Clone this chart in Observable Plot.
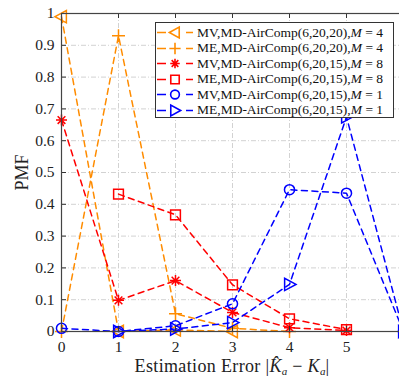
<!DOCTYPE html>
<html>
<head>
<meta charset="utf-8">
<script src="https://cdn.jsdelivr.net/npm/d3@7"></script>
<script src="https://cdn.jsdelivr.net/npm/@observablehq/plot@0.6"></script>
<style>
  html, body { margin: 0; padding: 0; background: #fff; }
  #wrap { position: relative; width: 399px; height: 379px; overflow: hidden; font-family: "Liberation Serif", serif; }
  #legend { position: absolute; left: 155px; top: 22px; width: 239px; height: 96px; background: #fff; border: 1px solid #333; box-sizing: border-box; padding-top: 2px; }
  .row { display: flex; align-items: center; height: 15.5px; font-size: 13.5px; color: #111; white-space: nowrap; }
  .row svg { flex: none; }
  #xlabel { position: absolute; left: 61px; width: 342px; top: 356px; height: 23px; text-align: center; font-size: 18px; letter-spacing: 0.35px; color: #222; line-height: 20px; }
  sub { font-size: 11px; vertical-align: -3px; line-height: 0; letter-spacing: 0; }
</style>
</head>
<body>
<div id="wrap">
  <div id="chart"></div>
  <div id="legend"></div>
  <div id="xlabel">Estimation Error |<i>K̂</i><sub><i>a</i></sub> − <i>K</i><sub><i>a</i></sub>|</div>
</div>
<script>
// ---- data ----
const xTicks = [0, 1, 2, 3, 4, 5, 6];
const yTicks = [0, 0.1, 0.2, 0.3, 0.4, 0.5, 0.6, 0.7, 0.8, 0.9, 1];

const mv2020M4_x = [0, 1, 2, 3];
const mv2020M4_y = [0.99, 0.0, 0.005, 0.0];

const me2020M4_x = [0, 1, 2, 3, 4];
const me2020M4_y = [0.0, 0.93, 0.056, 0.01, 0.0];

const mv2015M8_x = [0, 1, 2, 3, 4, 5];
const mv2015M8_y = [0.665, 0.098, 0.16, 0.06, 0.012, 0.003];

const me2015M8_x = [1, 2, 3, 4, 5];
const me2015M8_y = [0.432, 0.367, 0.147, 0.04, 0.006];

const mv2015M1_x = [0, 1, 2, 3, 4, 5, 6];
const mv2015M1_y = [0.01, 0.0, 0.018, 0.087, 0.446, 0.435, 0.0];

const me2015M1_x = [1, 2, 3, 4, 5, 6];
const me2015M1_y = [0.0, 0.008, 0.028, 0.148, 0.675, 0.0];

const legendLabels = [
  "MV,MD-AirComp(6,20,20),<i>M</i> = 4",
  "ME,MD-AirComp(6,20,20),<i>M</i> = 4",
  "MV,MD-AirComp(6,20,15),<i>M</i> = 8",
  "ME,MD-AirComp(6,20,15),<i>M</i> = 8",
  "MV,MD-AirComp(6,20,15),<i>M</i> = 1",
  "ME,MD-AirComp(6,20,15),<i>M</i> = 1"
];

// ---- styles ----
const ORANGE = "#ff8c00", RED = "#ff0000", BLUE = "#0000ff";

const sym = (fn) => ({ draw(ctx, size) { const r = Math.sqrt(size / Math.PI); fn(ctx, r); } });
const triLeft = sym((c, r) => { c.moveTo(-r, 0); c.lineTo(r * 0.75, -r * 0.95); c.lineTo(r * 0.75, r * 0.95); c.closePath(); });
const triRight = sym((c, r) => { c.moveTo(r, 0); c.lineTo(-r * 0.75, -r * 0.95); c.lineTo(-r * 0.75, r * 0.95); c.closePath(); });
const plus = sym((c, r) => { c.moveTo(-r, 0); c.lineTo(r, 0); c.moveTo(0, -r); c.lineTo(0, r); });
const star = sym((c, r) => { const d = r * 0.7; c.moveTo(-r, 0); c.lineTo(r, 0); c.moveTo(0, -r); c.lineTo(0, r); c.moveTo(-d, -d); c.lineTo(d, d); c.moveTo(-d, d); c.lineTo(d, -d); });
const square = sym((c, r) => { const s = r * 0.75; c.moveTo(-s, -s); c.lineTo(s, -s); c.lineTo(s, s); c.lineTo(-s, s); c.closePath(); });
const circle = sym((c, r) => { const s = r * 0.72; c.moveTo(s, 0); c.arc(0, 0, s, 0, 2 * Math.PI); });

const series = [
  { xs: mv2020M4_x, ys: mv2020M4_y, color: ORANGE, symbol: triLeft, r: 6.5 },
  { xs: me2020M4_x, ys: me2020M4_y, color: ORANGE, symbol: plus, r: 6.5 },
  { xs: mv2015M8_x, ys: mv2015M8_y, color: RED, symbol: star, r: 5.5 },
  { xs: me2015M8_x, ys: me2015M8_y, color: RED, symbol: square, r: 6.5 },
  { xs: mv2015M1_x, ys: mv2015M1_y, color: BLUE, symbol: circle, r: 7 },
  { xs: me2015M1_x, ys: me2015M1_y, color: BLUE, symbol: triRight, r: 6.5 }
];

const H = 356, MT = 13, MB = 25;
const innerH = H - MT - MB;

const marks = [
  Plot.gridX(xTicks, { stroke: "#d2d2d2", strokeOpacity: 1, strokeDasharray: "5,2,1,2" }),
  Plot.gridY(yTicks, { stroke: "#d2d2d2", strokeOpacity: 1, strokeDasharray: "5,2,1,2" }),
  Plot.axisY(yTicks, { tickSize: 0, tickPadding: 7, tickFormat: d => String(d), label: "PMF", labelAnchor: "center", labelArrow: "none", labelOffset: 46, fontSize: 15.5 }),
  Plot.axisX(xTicks.slice(0, 6), { tickSize: 0, tickPadding: 9, tickFormat: d => String(d), label: null, fontSize: 15.5 }),
];
for (const s of series) {
  const data = s.xs.map((x, i) => ({ x, y: s.ys[i] }));
  marks.push(Plot.line(data, { x: "x", y: "y", stroke: s.color, strokeWidth: 1.5, strokeDasharray: "6,4.5" }));
  marks.push(Plot.dot(data, { x: "x", y: "y", symbol: s.symbol, r: s.r, stroke: s.color, fill: "none", strokeWidth: 1.5 }));
}
marks.push(
  Plot.tickX(xTicks, { x: d => d, stroke: "#333", insetTop: innerH - 5 }),
  Plot.tickX(xTicks, { x: d => d, stroke: "#333", insetBottom: innerH - 5 }),
  Plot.tickY(yTicks, { y: d => d, stroke: "#333", insetRight: 337 }),
  Plot.frame({ stroke: "#444", strokeWidth: 1.2 })
);

const chart = Plot.plot({
  width: 399,
  height: H,
  marginLeft: 61,
  marginRight: -4,
  marginTop: MT,
  marginBottom: MB,
  x: { domain: [0, 6] },
  y: { domain: [0, 1] },
  style: { fontFamily: "Liberation Serif, serif", fontSize: "15.5px", color: "#222", background: "#fff", overflow: "hidden" },
  marks
});
// enlarge the y-axis title (PMF)
chart.querySelectorAll("text").forEach(t => { if (t.textContent === "PMF") t.style.fontSize = "18px"; });
document.getElementById("chart").appendChild(chart);

// ---- legend (HTML) ----
const legend = document.getElementById("legend");
series.forEach((s, i) => {
  const row = document.createElement("div");
  row.className = "row";
  const ns = "http://www.w3.org/2000/svg";
  const svg = document.createElementNS(ns, "svg");
  svg.setAttribute("width", 41); svg.setAttribute("height", 15);
  const line = document.createElementNS(ns, "path");
  line.setAttribute("d", "M1,7.5H10M30,7.5H37");
  line.setAttribute("stroke", s.color); line.setAttribute("stroke-width", 1.6);
  line.setAttribute("fill", "none");
  svg.appendChild(line);
  const mk = document.createElementNS(ns, "path");
  mk.setAttribute("d", d3.symbol(s.symbol, Math.PI * s.r * s.r * 0.75)());
  mk.setAttribute("transform", "translate(19,7.5)");
  mk.setAttribute("stroke", s.color); mk.setAttribute("stroke-width", 1.6); mk.setAttribute("fill", "none");
  svg.appendChild(mk);
  row.appendChild(svg);
  const t = document.createElement("span");
  t.innerHTML = legendLabels[i];
  row.appendChild(t);
  legend.appendChild(row);
});
</script>
</body>
</html>
